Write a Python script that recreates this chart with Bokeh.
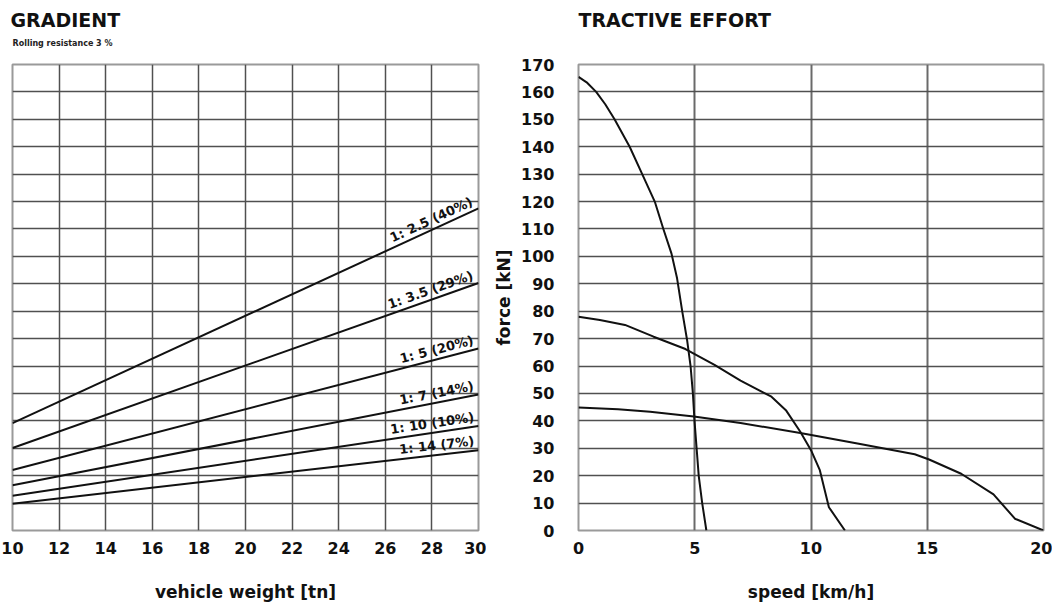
import math
from bokeh.plotting import figure
from bokeh.models import FixedTicker, Range1d, Title
from bokeh.layouts import row
from bokeh.embed import file_html
from bokeh.resources import INLINE
from bokeh.core.properties import value

# ---------------- data ----------------
# GRADIENT chart: required force [kN] vs vehicle weight [tn]
weights = [10, 30]
grad_labels = ["1: 2.5 (40%)", "1: 3.5 (29%)", "1: 5 (20%)", "1: 7 (14%)", "1: 10 (10%)", "1: 14 (7%)"]
force_40 = [39.2, 117.5]
force_29 = [30.1, 90.3]
force_20 = [22.1, 66.4]
force_14 = [16.5, 49.6]
force_10 = [12.7, 38.1]
force_7 = [9.8, 29.3]

weight_ticks = [10, 12, 14, 16, 18, 20, 22, 24, 26, 28, 30]
force_ticks = [0, 10, 20, 30, 40, 50, 60, 70, 80, 90, 100, 110, 120, 130, 140, 150, 160, 170]
speed_ticks = [0, 5, 10, 15, 20]

# TRACTIVE EFFORT chart: force [kN] vs speed [km/h]
speed_g1 = [0, 0.35, 0.76, 1.15, 1.55, 2.2, 2.74, 3.28, 3.65, 4.0, 4.24, 4.46, 4.67, 4.82, 4.92, 4.99, 5.08, 5.17, 5.32, 5.5]
force_g1 = [165.5, 163.5, 160, 155.5, 150, 140, 130, 120, 110, 101, 92, 80, 69.5, 60, 50, 40, 30, 20, 10, 0]

speed_g2 = [0, 0.92, 2.0, 3.23, 4.6, 5.85, 6.97, 8.3, 8.92, 9.54, 10.0, 10.38, 10.77, 11.46]
force_g2 = [78, 76.8, 75, 70.7, 66.2, 60.4, 54.7, 48.8, 43.9, 36, 29.3, 22, 8.5, 0]

speed_g3 = [0, 1.7, 3.08, 4.96, 6.97, 9.54, 12.0, 14.46, 15.08, 16.46, 17.85, 18.77, 20.0]
force_g3 = [44.9, 44.2, 43.3, 41.6, 39.2, 35.6, 31.7, 27.8, 25.9, 20.7, 13.2, 4.3, 0]

# ---------------- style ----------------
FONT = "DejaVu Sans"
FW1, FW2, FH = 466, 465, 466
LINE = "#111111"
GRID = "#505050"
OUTLINE = "#9a9a9a"


def style(p):
    p.outline_line_color = OUTLINE
    p.outline_line_width = 2
    p.background_fill_color = "white"
    p.border_fill_color = "white"
    for ax in p.axis:
        ax.axis_line_color = None
        ax.major_tick_line_color = None
        ax.minor_tick_line_color = None
        ax.major_label_text_font = FONT
        ax.major_label_text_font_style = "bold"
        ax.major_label_text_font_size = "16px"
        ax.major_label_text_color = "#111111"
        ax.axis_label_text_font = FONT
        ax.axis_label_text_font_style = "bold"
        ax.axis_label_text_font_size = "17px"
        ax.axis_label_text_color = "#111111"
    p.ygrid.grid_line_color = GRID
    p.ygrid.grid_line_width = 1.5
    p.xaxis.major_label_standoff = 5
    p.xaxis.axis_label_standoff = 25


def title(text, size, standoff, offset=0, color="#111111"):
    return Title(text=text, align="left", offset=offset, standoff=standoff,
                 text_font=FONT, text_font_style="bold", text_font_size=size, text_color=color)


# ---------------- left: GRADIENT ----------------
p1 = figure(frame_width=FW1, frame_height=FH, output_backend="svg", toolbar_location=None,
            x_range=Range1d(10, 30), y_range=Range1d(0, 170),
            min_border_left=12, min_border_right=8, min_border_top=64, min_border_bottom=60)
style(p1)
p1.xaxis.ticker = FixedTicker(ticks=weight_ticks)
p1.yaxis.ticker = FixedTicker(ticks=force_ticks)
p1.yaxis.visible = False
p1.xaxis.axis_label = "vehicle weight [tn]"
p1.xgrid.grid_line_color = GRID
p1.xgrid.grid_line_width = 1.5

series = [force_40, force_29, force_20, force_14, force_10, force_7]
px_x = FW1 / (30 - 10)
px_y = FH / 170.0
lx, ly, la = [], [], []
for ys in series:
    p1.line(weights, ys, line_color=LINE, line_width=2)
    slope = (ys[1] - ys[0]) / (weights[1] - weights[0])
    xr = 29.85
    lx.append(xr)
    ly.append(ys[0] + slope * (xr - weights[0]) + 0.8)
    la.append(math.atan2(slope * px_y, px_x))
p1.text(x=lx, y=ly, text=grad_labels, angle=la, text_align="right", text_baseline="bottom",
        text_font=value(FONT), text_font_style="bold", text_font_size="13px", text_color=LINE)

# title stack, from the frame upwards: spacer, subtitle, title
p1.add_layout(title(" ", "10px", 2.6), "above")
p1.add_layout(title("Rolling resistance 3 %", "8px", 2, 0, "#222222"), "above")
p1.add_layout(title("GRADIENT", "19px", 10, -2), "above")

# ---------------- right: TRACTIVE EFFORT ----------------
p2 = figure(frame_width=FW2, frame_height=FH, output_backend="svg", toolbar_location=None,
            x_range=Range1d(0, 20), y_range=Range1d(0, 170),
            min_border_left=92, min_border_right=9, min_border_top=64, min_border_bottom=60)
style(p2)
p2.xaxis.ticker = FixedTicker(ticks=speed_ticks)
p2.yaxis.ticker = FixedTicker(ticks=force_ticks)
p2.xaxis.axis_label = "speed [km/h]"
p2.yaxis.axis_label = "force [kN]"
p2.yaxis.major_label_standoff = 18
p2.yaxis.axis_label_standoff = 4
p2.xgrid.grid_line_color = "#6a6a6a"
p2.xgrid.grid_line_width = 2

p2.line(speed_g1, force_g1, line_color=LINE, line_width=2)
p2.line(speed_g2, force_g2, line_color=LINE, line_width=2)
p2.line(speed_g3, force_g3, line_color=LINE, line_width=2)

p2.add_layout(title(" ", "10px", 20.2), "above")
p2.add_layout(title("TRACTIVE EFFORT", "19px", 2), "above")

layout = row(p1, p2)
open("out.html", "w").write(file_html(layout, INLINE))
